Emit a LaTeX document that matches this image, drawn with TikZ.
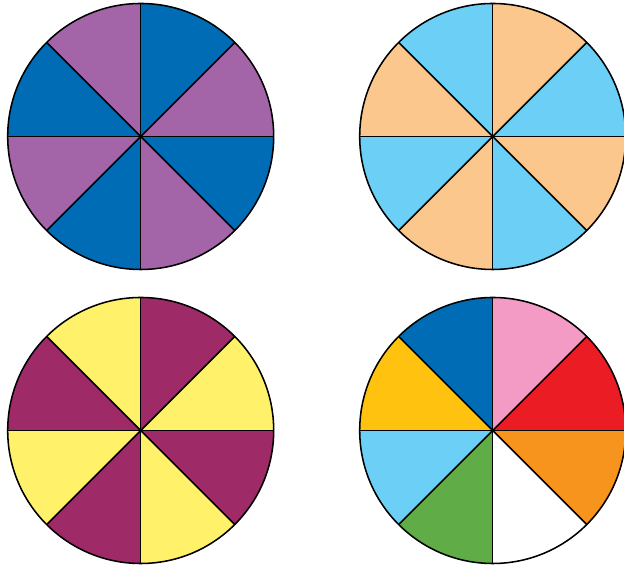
\documentclass[tikz,border=0pt]{standalone}
\definecolor{wpurple}{HTML}{A464A8}
\definecolor{wblue}{HTML}{006CB5}
\definecolor{wsky}{HTML}{6CCFF6}
\definecolor{wpeach}{HTML}{FCC78D}
\definecolor{wyellow}{HTML}{FFF26A}
\definecolor{wmaroon}{HTML}{9E2A67}
\definecolor{wpink}{HTML}{F39BC4}
\definecolor{wred}{HTML}{EC1C24}
\definecolor{worange}{HTML}{F7941E}
\definecolor{wgold}{HTML}{FFC20F}
\definecolor{wgreen}{HTML}{60AD47}
\begin{document}
\begin{tikzpicture}[x=0.025cm,y=0.025cm,line width=1.1pt]
  \useasboundingbox (0,0) rectangle (624,569);
  % four wheels, sectors listed counter-clockwise from 0 degrees
  \foreach \cx/\cy/\colset in {
      140.7/432.5/{wpurple,wblue,wpurple,wblue,wpurple,wblue,wpurple,wblue},
      492.7/432.5/{wsky,wpeach,wsky,wpeach,wsky,wpeach,wsky,wpeach},
      140.7/138.5/{wyellow,wmaroon,wyellow,wmaroon,wyellow,wmaroon,wyellow,wmaroon},
      492.7/138.5/{wred,wpink,wblue,wgold,wsky,wgreen,white,worange}}{
    \coordinate (ctr) at (\cx,\cy);
    \foreach \c [count=\i from 0] in \colset
      \fill[\c] (ctr) -- ++(45*\i:133) arc[start angle=45*\i,end angle=45*\i+45,radius=133] -- cycle;
    \foreach \a in {0,45,90,135}
      \draw (ctr) ++(\a:133) -- ++(\a+180:266);
    \draw (ctr) circle[radius=133];
  }
\end{tikzpicture}
\end{document}
